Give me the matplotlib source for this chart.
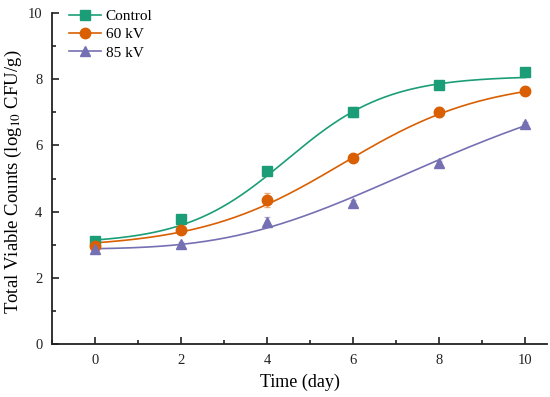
import numpy as np
import matplotlib
matplotlib.use("Agg")
import matplotlib.pyplot as plt
from matplotlib.ticker import MultipleLocator

plt.rcParams['font.family'] = ['Liberation Serif', 'DejaVu Serif']
plt.rcParams['mathtext.fontset'] = 'stix'

days = [0, 2, 4, 6, 8, 10]
control = [3.11, 3.77, 5.22, 7.00, 7.82, 8.22]
kv60 = [2.97, 3.45, 4.35, 5.63, 7.00, 7.65]
kv85 = [2.87, 3.03, 3.70, 4.27, 5.47, 6.65]
err_control = [0.05, 0.08, 0.08, 0.15, 0.10, 0.06]
err_60 = [0.06, 0.08, 0.20, 0.06, 0.15, 0.06]
err_85 = [0.05, 0.06, 0.15, 0.08, 0.06, 0.06]

# fitted model parameters (kind, A, C, k, xc)
fit_control = ("logistic", 3.03, 5.07, 0.85, 4.45)
fit_60 = ("logistic", 2.9, 5.1, 0.6, 5.75)
fit_85 = ("gompertz", 2.87, 6.0, 0.2585, 7.12)

labels = ["Control", "60 kV", "85 kV"]
colors = ["#1b9e77", "#d95f02", "#7570b3"]
markers = ["s", "o", "^"]
msizes = [6.5, 7.5, 7.5]


def model(p, x):
    kind, A, C, k, xc = p
    if kind == "logistic":
        return A + C / (1 + np.exp(-k * (x - xc)))
    return A + C * np.exp(-np.exp(-k * (x - xc)))


fig = plt.figure(figsize=(5.5, 3.97), dpi=100)
ax = fig.add_axes([0.0945, 0.1335, 0.9, 0.8335])

xs = np.linspace(0, 10, 200)
for vals, errs, fit, lab, c, m, ms in zip([control, kv60, kv85], [err_control, err_60, err_85],
                                         [fit_control, fit_60, fit_85], labels, colors, markers, msizes):
    ax.errorbar(days, vals, yerr=errs, fmt='none', ecolor=c, alpha=0.5, elinewidth=1, capsize=2.5, zorder=2)
    ax.plot(xs, model(fit, xs), color=c, lw=1.2, zorder=3)
    ax.plot(days, vals, linestyle='none', marker=m, color=c, ms=ms, zorder=4)
    ax.plot([], [], color=c, lw=1.2, marker=m, ms=ms, label=lab)

ax.set_xlim(-1, 10.5)
ax.set_ylim(0, 10)
ax.xaxis.set_major_locator(MultipleLocator(2))
ax.xaxis.set_minor_locator(MultipleLocator(1))
ax.yaxis.set_major_locator(MultipleLocator(2))
ax.yaxis.set_minor_locator(MultipleLocator(1))
ax.tick_params(which='both', direction='in', width=1.2, labelsize=10.5, colors='#222222')
ax.tick_params(which='major', length=5)
ax.tick_params(which='minor', length=3)
ax.tick_params(axis='y', which='major', pad=7)
ax.tick_params(axis='x', which='major', pad=7)
for s in ['top', 'right']:
    ax.spines[s].set_visible(False)
for s in ['left', 'bottom']:
    ax.spines[s].set_linewidth(1.3)
    ax.spines[s].set_color('#222222')

ax.set_xlabel("Time (day)", fontsize=13, va='center')
ax.xaxis.set_label_coords(0.5, -0.115)
ax.set_ylabel("Total Viable Counts (log$_{10}$ CFU/g)", fontsize=13.5, va='center')
ax.yaxis.set_label_coords(-0.077, 0.49)

leg = ax.legend(loc='upper left', bbox_to_anchor=(0.022, 1.03), frameon=False, fontsize=11,
                handlelength=2.1, handletextpad=0.3, labelspacing=0.3, borderaxespad=0)

fig.savefig("out.png", dpi=100)
